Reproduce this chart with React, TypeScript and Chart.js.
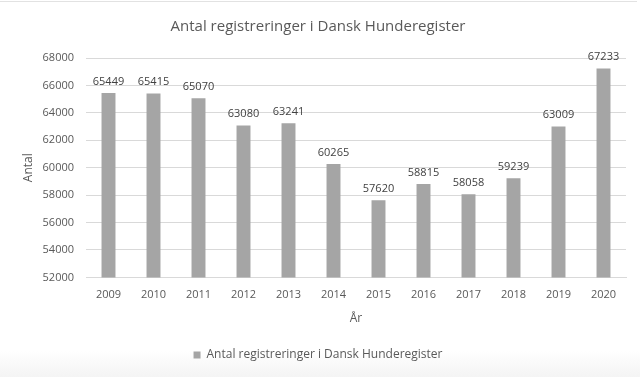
import React, { useEffect, useRef } from "react";
import { Chart, registerables } from "chart.js";

Chart.register(...registerables);

const years = ["2009", "2010", "2011", "2012", "2013", "2014", "2015", "2016", "2017", "2018", "2019", "2020"];
const registrations = [65449, 65415, 65070, 63080, 63241, 60265, 57620, 58815, 58058, 59239, 63009, 67233];
const seriesName = "Antal registreringer i Dansk Hunderegister";
const yMin = 52000;
const yMax = 68000;
const yStep = 2000;

const FONT = "'Open Sans', 'Liberation Sans', sans-serif";
const TEXT = "#595959";

const valueLabels = {
  id: "valueLabels",
  afterDatasetsDraw(chart: any) {
    const { ctx } = chart;
    const meta = chart.getDatasetMeta(0);
    ctx.save();
    ctx.font = `11px ${FONT}`;
    ctx.fillStyle = "#404040";
    ctx.textAlign = "center";
    ctx.textBaseline = "bottom";
    meta.data.forEach((bar: any, i: number) => {
      ctx.fillText(String(chart.data.datasets[0].data[i]), bar.x, bar.y - 6);
    });
    ctx.restore();
  },
};

export default function App() {
  const ref = useRef<HTMLCanvasElement>(null);
  useEffect(() => {
    document.body.style.margin = "0";
    const chart = new Chart(ref.current!, {
      type: "bar",
      data: {
        labels: years,
        datasets: [
          {
            label: seriesName,
            data: registrations,
            backgroundColor: "#a5a5a5",
            categoryPercentage: 1,
            barPercentage: 0.31,
          },
        ],
      },
      options: {
        responsive: false,
        animation: false,
        layout: { padding: { left: 10, right: 14, top: 0, bottom: 6 } },
        plugins: {
          title: {
            display: true,
            text: seriesName,
            color: TEXT,
            font: { family: FONT, size: 15, weight: "normal" },
            padding: { top: 18, bottom: 22 },
          },
          legend: {
            position: "bottom",
            labels: {
              color: TEXT,
              font: { family: FONT, size: 12 },
              boxWidth: 7,
              boxHeight: 7,
              padding: 10,
            },
          },
          tooltip: { enabled: false },
        },
        scales: {
          x: {
            grid: { display: false },
            border: { display: true, color: "#d9d9d9" },
            ticks: { color: TEXT, font: { family: FONT, size: 11 }, padding: 3 },
            title: {
              display: true,
              text: "År",
              color: TEXT,
              font: { family: FONT, size: 12 },
              padding: { top: 7, bottom: 13 },
            },
          },
          y: {
            min: yMin,
            max: yMax,
            afterFit: (scale: any) => {
              scale.width = 76;
            },
            ticks: {
              stepSize: yStep,
              color: TEXT,
              font: { family: FONT, size: 11 },
              padding: 12,
              callback: (v: any) => String(v),
            },
            grid: { color: "#d9d9d9", drawTicks: false },
            border: { display: false },
            title: {
              display: true,
              text: "Antal",
              color: TEXT,
              font: { family: FONT, size: 12 },
              padding: { top: 11, bottom: 6 },
            },
          },
        },
      },
      plugins: [valueLabels],
    });
    return () => chart.destroy();
  }, []);
  return (
    <div
      style={{
        position: "relative",
        width: 640,
        height: 377,
        background: "linear-gradient(to bottom, #fff 0%, #fff 93%, #f4f4f4 100%)",
      }}
    >
      <div style={{ position: "absolute", left: 0, top: 1, width: 637, height: 1, background: "#e2e2e2" }} />
      <canvas ref={ref} width={640} height={377} style={{ position: "absolute", left: 0, top: 0 }} />
    </div>
  );
}
